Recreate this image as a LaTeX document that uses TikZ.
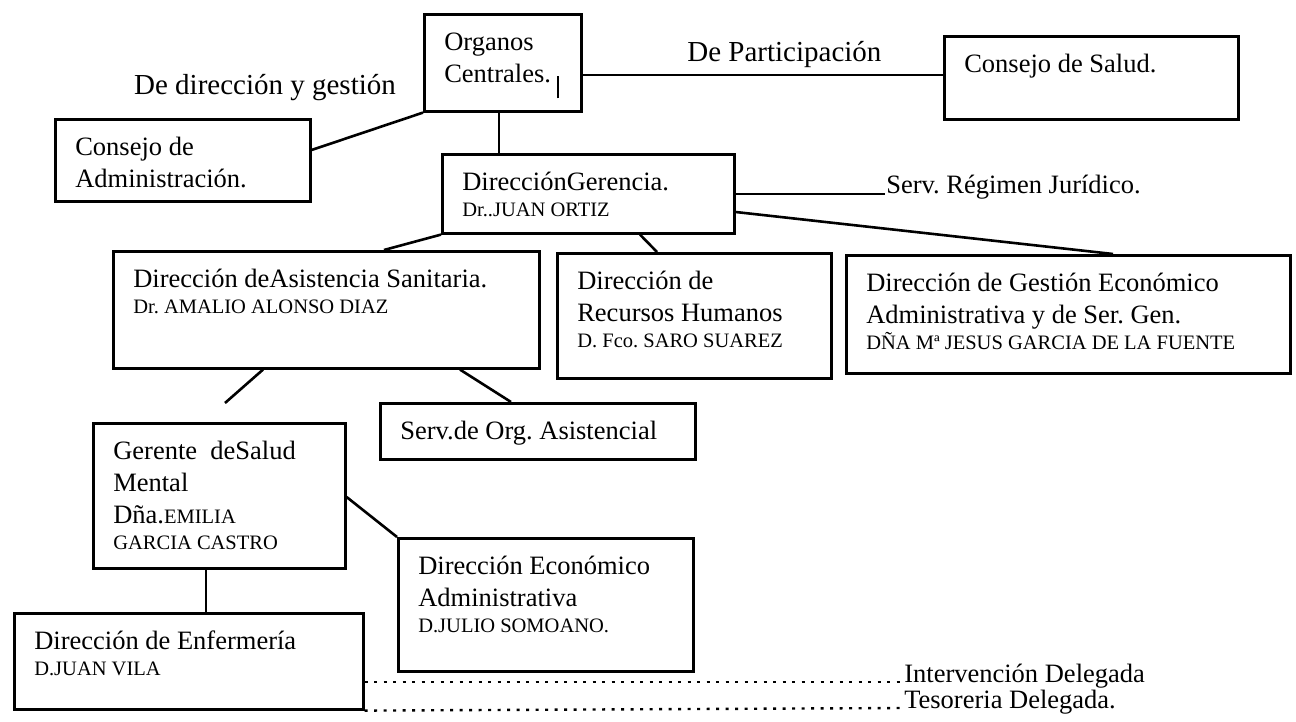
\documentclass[tikz,border=0pt]{standalone}
\usepackage{fontspec}
\setmainfont{Liberation Serif}
\usepackage{tikz}
\frenchspacing

\newcommand{\cell}[3]{\parbox[c][\dimexpr#2pt-34pt\relax][t]{\dimexpr#1pt-40pt\relax}{\raggedright\rule{0pt}{19pt}#3}}
\newcommand{\nm}{\fontsize{20.5}{26}\selectfont}

\begin{document}
\begin{tikzpicture}[x=1pt, y=-1pt, line width=2.6pt,
        box/.style = {draw, anchor=north west, inner xsep=20pt, inner ysep=17pt, font=\fontsize{26.5}{32}\selectfont},
        txt/.style = {inner sep=0pt, font=\fontsize{26.5}{32}\selectfont},
        lbl/.style = {inner sep=0pt, font=\fontsize{29}{34}\selectfont},
        dots/.style = {line width=2.4pt, dash pattern=on 3pt off 6.5pt}]

            \useasboundingbox (0,0) rectangle (1296,722);

            \node[box] (org) at (423,13) {\cell{157}{97}{Organos\par Centrales.\hspace{6pt}\rule[-16pt]{2pt}{22pt}}};
            \node[box] (adm) at (54,118) {\cell{255}{82}{Consejo de\par Administración.}};
            \node[box] (sal) at (943,35) {\cell{294}{83}{Consejo de Salud.}};
            \node[box] (ger) at (441,153) {\cell{292}{79}{DirecciónGerencia.\par{\nm Dr..JUAN ORTIZ\par}}};
            \node[box] (asi) at (112,250) {\cell{426}{117}{Dirección deAsistencia Sanitaria.\par{\nm Dr. AMALIO ALONSO DIAZ\par}}};
            \node[box] (rrh) at (556,252) {\cell{274}{125}{Dirección de\par Recursos Humanos\par{\nm D. Fco. SARO SUAREZ\par}}};
            \node[box] (ges) at (845,254) {\cell{444}{118}{Dirección de Gestión Económico\par Administrativa y de Ser. Gen.\par{\nm DÑA Mª JESUS GARCIA DE LA FUENTE\par}}};
            \node[box] (srv) at (379,402) {\cell{315}{56}{Serv.de Org. Asistencial}};
            \node[box] (gsm) at (92,422) {\cell{252}{145}{Gerente\ \ deSalud\par Mental\par Dña.{\nm EMILIA}\par{\nm GARCIA CASTRO\par}}};
            \node[box] (eco) at (397,537) {\cell{295}{133}{Dirección Económico\par Administrativa\par{\nm D.JULIO SOMOANO.\par}}};
            \node[box] (enf) at (13,612) {\cell{349}{96}{Dirección de Enfermería\par{\nm D.JUAN VILA\par}}};

            \node[lbl] (dir) at (265,88) {De dirección y gestión};
            \node[txt, anchor=base west] (jur) at (885,194) {Serv. Régimen Jurídico.};
            \node[txt, anchor=base west] (int) at (903,682) {Intervención Delegada};
            \node[txt, anchor=base west] (tes) at (903,708) {Tesoreria Delegada.};
            \coordinate (gap) at (225,403);

            \draw (org.south west) -- (adm.east |- 0,150);
            \draw (org.east |- 0,75) -- node[lbl, pos=0.56, above=6pt] (part) {De Participación} (sal.west |- 0,75);
            \draw (org.south -| 499,0) -- (ger.north -| 499,0);
            \draw (ger.east |- jur.base west) -- (jur.base west);
            \draw (ger.east |- 0,212) -- (ges.north -| 1113,0);
            \draw (ger.south west) -- (asi.north -| 384,0);
            \draw (ger.south -| 640,0) -- (rrh.north -| 657,0);
            \draw (asi.south -| 263,0) -- (gap);
            \draw (asi.south -| 460,0) -- (srv.north -| 511,0);
            \draw (gsm.east |- 0,497) -- (eco.north west);
            \draw (gsm.south -| 206,0) -- (enf.north -| 206,0);
            \draw[dots] (enf.east |- int.base west) -- (int.base west);
            \draw[dots] (enf.south east) -- (tes.base west);

\end{tikzpicture}
\end{document}
